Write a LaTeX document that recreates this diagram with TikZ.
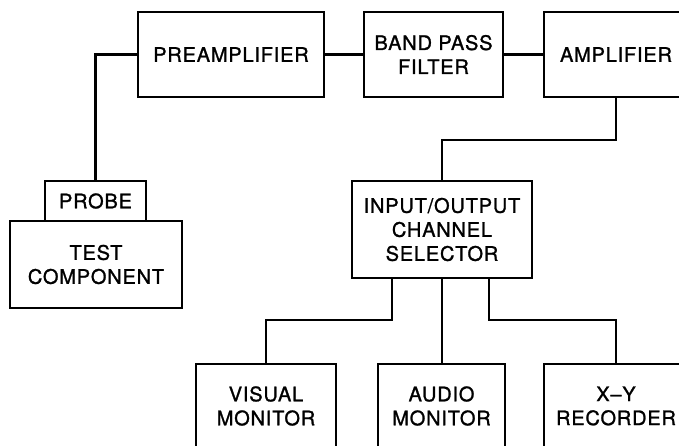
\documentclass[tikz,border=0pt]{standalone}
\usepackage{fontspec}
\setmainfont[LetterSpace=4,FakeBold=1.2]{TeX Gyre Heros}
\begin{document}
\begin{tikzpicture}[x=1pt,y=-1pt,
  blk/.style={draw,line width=2.2pt,rectangle,inner sep=0pt,align=center,
    font=\fontsize{20}{24}\selectfont},
  wire/.style={line width=2.2pt}]
\useasboundingbox (0,0) rectangle (679,445);
\node[blk,minimum width=186,minimum height=85] (pre) at (231,54.5) {PREAMPLIFIER};
\node[blk,minimum width=139,minimum height=85] (bpf) at (433.5,54.5) {BAND PASS\\FILTER};
\node[blk,minimum width=144,minimum height=85] (amp) at (616,54.5) {AMPLIFIER};
\node[blk,minimum width=101,minimum height=40] (probe) at (95.5,201) {PROBE};
\node[blk,minimum width=172,minimum height=87] (test) at (96,264.5) {TEST\\COMPONENT};
\node[blk,minimum width=180,minimum height=97] (sel) at (442,229.5) {INPUT/OUTPUT\\CHANNEL\\SELECTOR};
\node[blk,minimum width=140,minimum height=84] (vis) at (266,406) {VISUAL\\MONITOR};
\node[blk,minimum width=127,minimum height=84] (aud) at (441.5,406) {AUDIO\\MONITOR};
\node[blk,minimum width=144,minimum height=84] (xy) at (616,406) {X–Y\\RECORDER};
\coordinate (ampturn) at (616,140);
\coordinate (selL) at (392,278);
\coordinate (selR) at (489,278);
\coordinate (busy) at (0,320);
\draw[wire] (pre.west) -| (probe.north);
\draw[wire] (pre.east) -- (bpf.west);
\draw[wire] (bpf.east) -- (amp.west);
\draw[wire] (amp.south) -- (ampturn) -| (sel.north);
\draw[wire] (selL) -- (selL |- busy) -| (vis.north);
\draw[wire] (sel.south) -- (sel.south |- aud.north);
\draw[wire] (selR) -- (selR |- busy) -| (xy.north);
\end{tikzpicture}
\end{document}
